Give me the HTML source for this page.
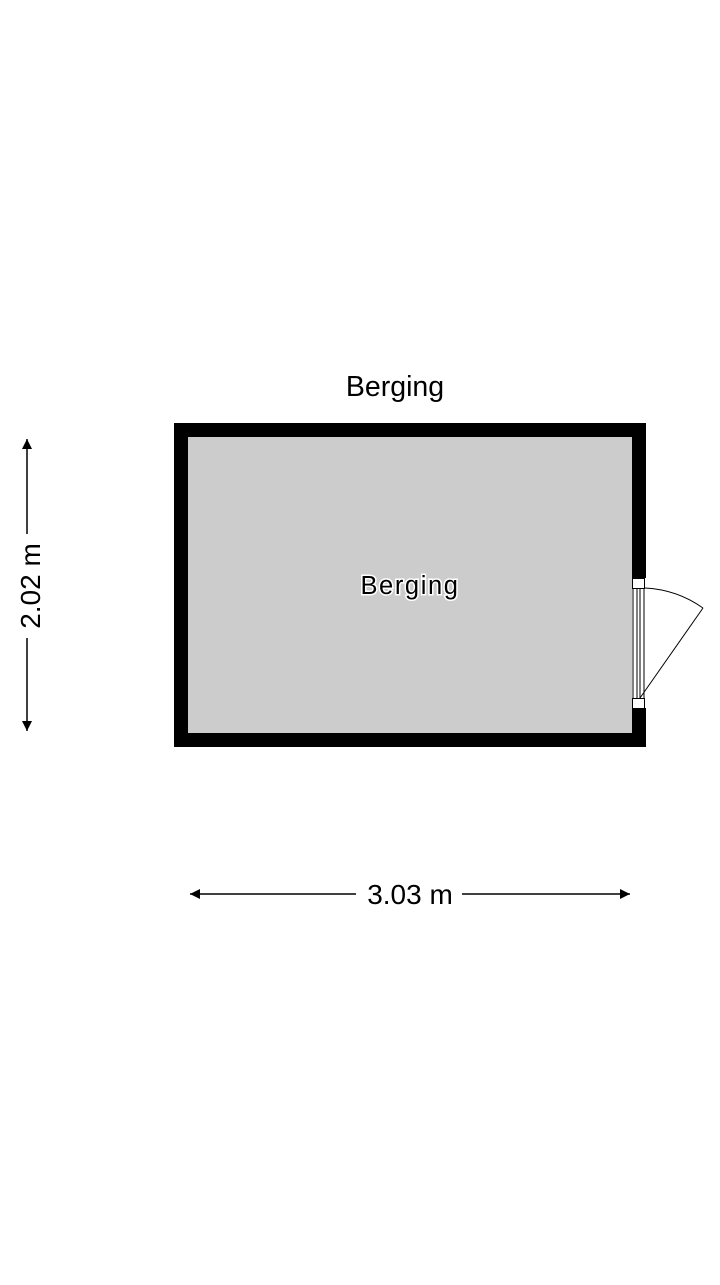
<!DOCTYPE html>
<html><head><style>html,body{margin:0;padding:0;background:#fff;}</style></head>
<body>
<svg width="720" height="1280" viewBox="0 0 720 1280" xmlns="http://www.w3.org/2000/svg" font-family="Liberation Sans, sans-serif">
<defs>
<marker id="a" viewBox="0 0 10 10" refX="10" refY="5" markerWidth="14" markerHeight="10" markerUnits="userSpaceOnUse" orient="auto-start-reverse"><path d="M0,0 L10,5 L0,10 z" fill="#000"/></marker>
</defs>
<rect x="174" y="423" width="472" height="324" fill="#000"/>
<rect x="188" y="437" width="444" height="296" fill="#cccccc"/>
<rect x="632" y="578" width="14" height="130" fill="#fff"/>
<rect x="632.5" y="578.5" width="12" height="10" fill="#fff" stroke="#000"/>
<rect x="632.5" y="698.5" width="12" height="10" fill="#fff" stroke="#000"/>
<g stroke="#000" stroke-width="1">
<line x1="633" y1="588" x2="633" y2="698"/>
<line x1="637" y1="588" x2="637" y2="698"/>
<line x1="640" y1="588" x2="640" y2="698"/>
<line x1="644" y1="588" x2="644" y2="698"/>
<line x1="640" y1="698" x2="703" y2="608"/>
<path d="M645,588 A110,110 0 0 1 703,608" fill="none"/>
</g>
<text x="395" y="396" font-size="28.5" text-anchor="middle">Berging</text>
<text x="410" y="594" font-size="25.5" text-anchor="middle" letter-spacing="1.6" stroke="#fff" stroke-width="3" paint-order="stroke">Berging</text>
<line x1="27" y1="439" x2="27" y2="534" stroke="#000" stroke-width="1.5" marker-start="url(#a)"/>
<line x1="27" y1="638" x2="27" y2="731" stroke="#000" stroke-width="1.5" marker-end="url(#a)"/>
<text transform="translate(40,586) rotate(-90)" font-size="28" text-anchor="middle">2.02 m</text>
<line x1="190" y1="894" x2="356" y2="894" stroke="#000" stroke-width="1.5" marker-start="url(#a)"/>
<line x1="462" y1="894" x2="630" y2="894" stroke="#000" stroke-width="1.5" marker-end="url(#a)"/>
<text x="410" y="904" font-size="28" text-anchor="middle">3.03 m</text>
</svg>
</body></html>
